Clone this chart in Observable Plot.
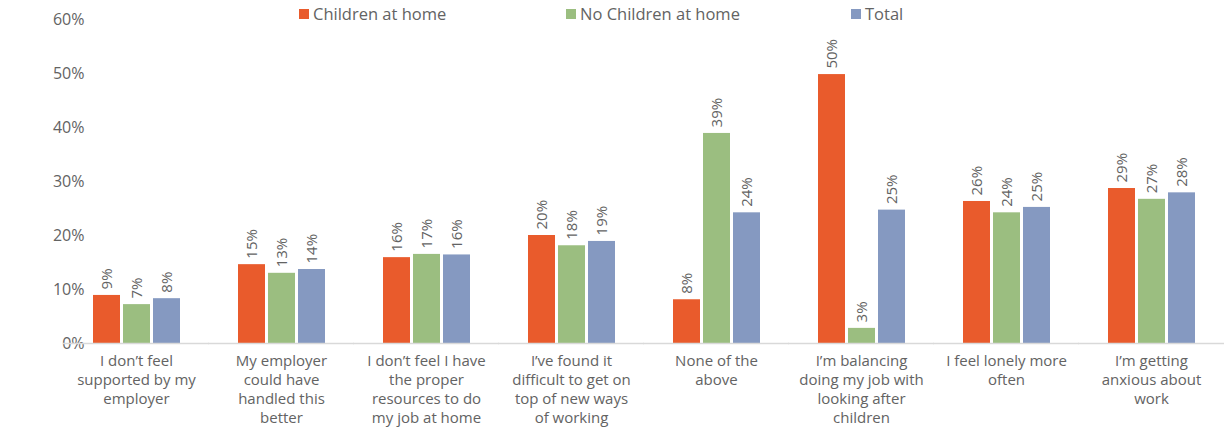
<!DOCTYPE html>
<html>
<head>
<meta charset="utf-8">
<script src="https://cdn.jsdelivr.net/npm/d3@7"></script>
<script src="https://cdn.jsdelivr.net/npm/@observablehq/plot@0.6"></script>
<style>
  html, body { margin: 0; padding: 0; background: #fff; }
  #wrap { position: relative; width: 1230px; height: 428px; font-family: "Open Sans", sans-serif; color: #636363; }
  .leg { position: absolute; top: 3px; font-size: 16.5px; line-height: 22px; white-space: nowrap; }
  .leg i { display: inline-block; width: 10px; height: 10px; margin-right: 4px; vertical-align: 1px; }
  #chart { position: absolute; left: 0; top: 0; }
</style>
</head>
<body>
<div id="wrap">
  <div id="chart"></div>
  <div id="legend"></div>
</div>
<script>
const categories = [
  "I don’t feel\nsupported by my\nemployer",
  "My employer\ncould have\nhandled this\nbetter",
  "I don’t feel I have\nthe proper\nresources to do\nmy job at home",
  "I’ve found it\ndifficult to get on\ntop of new ways\nof working",
  "None of the\nabove",
  "I’m balancing\ndoing my job with\nlooking after\nchildren",
  "I feel lonely more\noften",
  "I’m getting\nanxious about\nwork"
];
const series = ["Children at home", "No Children at home", "Total"];
const children   = [8.9, 14.6, 15.9, 20.0, 8.1, 49.8, 26.3, 28.7];
const noChildren = [7.2, 13.0, 16.5, 18.1, 38.9, 2.8, 24.2, 26.7];
const total      = [8.3, 13.7, 16.4, 18.9, 24.2, 24.7, 25.2, 27.9];
const yTicks = [0, 10, 20, 30, 40, 50, 60];
const colors = ["#E95B2C", "#9BBE80", "#8599C1"];

const valuesBySeries = [children, noChildren, total];
const data = [];
categories.forEach((c, i) => {
  series.forEach((s, j) => data.push({category: c, series: s, value: valuesBySeries[j][i]}));
});

const legendX = [299, 566, 851];
const legend = document.getElementById("legend");
series.forEach((s, j) => {
  const d = document.createElement("div");
  d.className = "leg";
  d.style.left = legendX[j] + "px";
  d.innerHTML = `<i style="background:${colors[j]}"></i>${s}`;
  legend.appendChild(d);
});

const chart = Plot.plot({
  width: 1230,
  height: 428,
  marginLeft: 62,
  marginRight: 5,
  marginTop: 19,
  marginBottom: 85,
  style: {fontFamily: "Open Sans, sans-serif", color: "#636363", background: "transparent"},
  fx: {domain: categories, paddingInner: 0.39, paddingOuter: 0.2},
  x: {domain: series, axis: null, paddingInner: 0.1, paddingOuter: 0},
  y: {domain: [0, 60]},
  color: {domain: series, range: colors},
  marks: [
    Plot.axisY({ticks: yTicks, tickFormat: d => d + "%", tickSize: 0, tickPadding: 8, fontSize: 16, label: null}),
    Plot.axisFx({anchor: "bottom", tickSize: 0, tickPadding: 9, fontSize: 15, lineHeight: 1.27, label: null}),
    Plot.barY(data, {fx: "category", x: "series", y: "value", fill: "series"}),
    Plot.ruleY([0], {stroke: "#d9d9d9", strokeWidth: 1.5, insetLeft: -29, insetRight: -29}),
    Plot.text(data, {fx: "category", x: "series", y: "value", text: d => Math.round(d.value) + "%",
      rotate: -90, textAnchor: "start", dy: -6, fontSize: 15, fill: "#636363"})
  ]
});
document.getElementById("chart").appendChild(chart);
</script>
</body>
</html>
